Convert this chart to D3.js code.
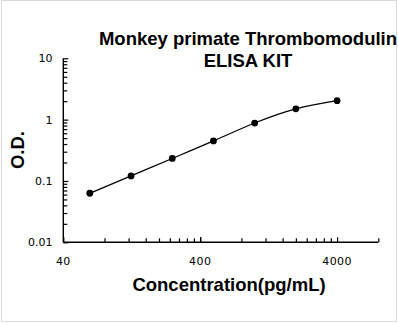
<!DOCTYPE html>
<html>
<head>
<meta charset="utf-8">
<script src="https://cdn.jsdelivr.net/npm/d3@7"></script>
<style>
  html, body { margin: 0; padding: 0; background: #fff; }
</style>
</head>
<body>
<div id="chart"></div>
<script>
// standard curve points (concentration in pg/mL, optical density)
const concentrations = [62.5, 125, 250, 500, 1000, 2000, 4000]
const odValues = [0.063, 0.121, 0.233, 0.45, 0.88, 1.5, 2.04]

const xLabelTicks = [40, 400, 4000]
const yLabelTicks = [0.01, 0.1, 1, 10]
const titleLines = ['Monkey primate Thrombomodulin', 'ELISA KIT']

const width = 398
const height = 323
const margin = { left: 63.3, right: 378.3, top: 58.3, bottom: 242.3 }
const boldFont = '"Liberation Sans", Arial, sans-serif'
const tickFont = '"DejaVu Sans", Verdana, sans-serif'

const svg = d3.select('#chart')
  .append('svg')
  .attr('width', width)
  .attr('height', height)

// light frame round the picture
svg.append('rect')
  .attr('x', 1.5)
  .attr('y', 0.5)
  .attr('width', 395)
  .attr('height', 321)
  .attr('fill', '#fff')
  .attr('stroke', '#d9d9d9')
  .attr('stroke-width', 1)

const x = d3.scaleLog()
  .domain([40, 8000])
  .range([margin.left, margin.right])

const y = d3.scaleLog()
  .domain([0.01, 10])
  .range([margin.bottom, margin.top])

// minor ticks: multiples of 40 / 400 on x, 2..9 per decade on y
const xTicks = []
for (const base of [40, 400]) {
  for (let k = 1; k <= 10; k++) xTicks.push(base * k)
}
xTicks.push(8000)

const yTicks = []
for (const base of [0.01, 0.1, 1]) {
  for (let k = 1; k <= 9; k++) yTicks.push(base * k)
}
yTicks.push(10)

const isMajor = v => {
  const l = Math.log10(v / 4)
  return Math.abs(l - Math.round(l)) < 1e-6
}
const isDecade = v => {
  const l = Math.log10(v)
  return Math.abs(l - Math.round(l)) < 1e-6
}

const xAxis = svg.append('g')
  .attr('transform', `translate(0,${margin.bottom})`)
  .call(d3.axisBottom(x)
    .tickValues(xTicks)
    .tickSize(0)
    .tickFormat(''))
xAxis.select('.domain')
  .attr('d', `M${margin.left},0H${margin.right}`)
  .attr('stroke', '#000')
  .attr('stroke-width', 1.4)
xAxis.selectAll('.tick line')
  .attr('y2', d => isMajor(d) ? -5 : -4)
  .attr('stroke', '#000')
  .attr('stroke-width', 1.2)

const yAxis = svg.append('g')
  .attr('transform', `translate(${margin.left},0)`)
  .call(d3.axisLeft(y)
    .tickValues(yTicks)
    .tickSize(0)
    .tickFormat(''))
yAxis.select('.domain')
  .attr('d', `M0,${margin.top}V${margin.bottom}`)
  .attr('stroke', '#000')
  .attr('stroke-width', 1.4)
yAxis.selectAll('.tick line')
  .attr('x2', d => isDecade(d) ? 5 : 4)
  .attr('stroke', '#000')
  .attr('stroke-width', 1.2)

// tick labels
svg.append('g')
  .selectAll('text')
  .data(xLabelTicks)
  .enter().append('text')
    .attr('x', d => x(d))
    .attr('y', 265)
    .attr('text-anchor', 'middle')
    .style('font-family', tickFont)
    .style('font-size', '11px')
    .style('letter-spacing', '0.4px')
    .attr('fill', '#000')
    .text(d => d)

svg.append('g')
  .selectAll('text')
  .data(yLabelTicks)
  .enter().append('text')
    .attr('x', 52.5)
    .attr('y', d => y(d) + 4)
    .attr('text-anchor', 'end')
    .style('font-family', tickFont)
    .style('font-size', '11px')
    .attr('fill', '#000')
    .text(d => d)

// curve and points
const points = concentrations.map((c, i) => [c, odValues[i]])

svg.append('path')
  .datum(points)
  .attr('fill', 'none')
  .attr('stroke', '#000')
  .attr('stroke-width', 1.2)
  .attr('d', d3.line()
    .x(d => x(d[0]))
    .y(d => y(d[1]))
    .curve(d3.curveNatural))

svg.append('g')
  .selectAll('circle')
  .data(points)
  .enter().append('circle')
    .attr('cx', d => x(d[0]))
    .attr('cy', d => y(d[1]))
    .attr('r', 3.4)
    .attr('fill', '#000')

// titles
svg.append('g')
  .selectAll('text')
  .data(titleLines)
  .enter().append('text')
    .attr('x', 248)
    .attr('y', (d, i) => 45 + i * 21.7)
    .attr('text-anchor', 'middle')
    .style('font-family', boldFont)
    .style('font-weight', 'bold')
    .style('font-size', '18.5px')
    .attr('fill', '#000')
    .text(d => d)

svg.append('text')
  .attr('transform', 'translate(23.5,150) rotate(-90)')
  .attr('text-anchor', 'middle')
  .style('font-family', boldFont)
  .style('font-weight', 'bold')
  .style('font-size', '18.5px')
  .attr('fill', '#000')
  .text('O.D.')

svg.append('text')
  .attr('x', 229)
  .attr('y', 290.5)
  .attr('text-anchor', 'middle')
  .style('font-family', boldFont)
  .style('font-weight', 'bold')
  .style('font-size', '18.5px')
  .attr('fill', '#000')
  .text('Concentration(pg/mL)')
</script>
</body>
</html>
